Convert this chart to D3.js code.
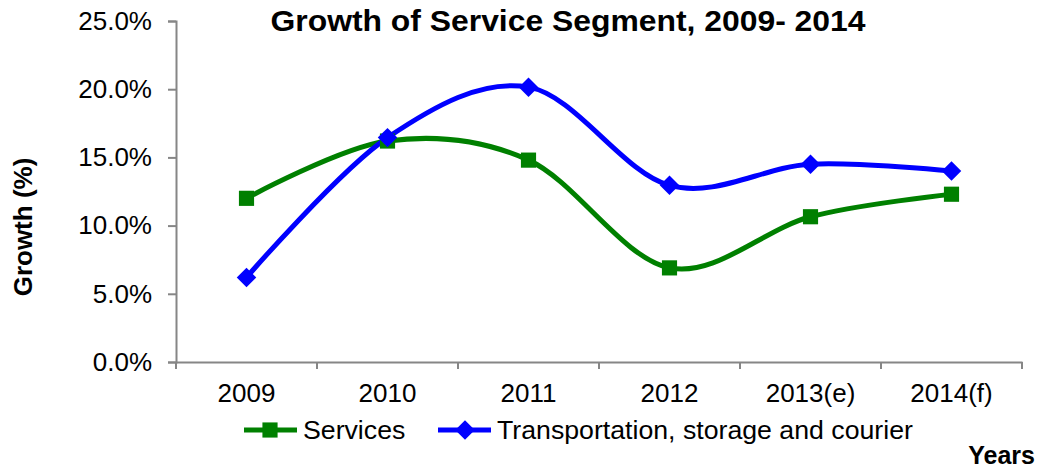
<!DOCTYPE html>
<html><head><meta charset="utf-8">
<script src="https://cdn.jsdelivr.net/npm/d3@7"></script>
<style>body{margin:0;background:#fff;} svg{display:block;font-family:"Liberation Sans",Arial,sans-serif;}</style>
</head><body>
<svg id="c" width="1037" height="470"></svg>
<script>
const categories = ["2009","2010","2011","2012","2013(e)","2014(f)"];
const services = [12.0, 16.2, 14.8, 6.9, 10.65, 12.3];
const transport = [6.2, 16.45, 20.15, 12.95, 14.5, 14.0];
const yTicks = [0,5,10,15,20,25];
const seriesNames = ["Services","Transportation, storage and courier"];

const svg = d3.select("#c");
const L=176, R=1022, T=21, B=362;
const x = d3.scaleBand().domain(categories).range([L,R]);
const y = d3.scaleLinear().domain([0,25]).range([B,T]);
const axisColor = "#868686";

// y axis
const ya = svg.append("g").attr("transform",`translate(${L},0)`)
  .call(d3.axisLeft(y).tickValues(yTicks).tickSize(8).tickPadding(16).tickFormat(d=>d.toFixed(1)+"%"));
ya.select(".domain").attr("stroke",axisColor).attr("stroke-width",2);
ya.selectAll(".tick line").attr("stroke",axisColor).attr("stroke-width",2);
ya.selectAll(".tick text").attr("font-size",26).attr("fill","#000").attr("font-family","Liberation Sans, Arial, sans-serif");

// x axis
const xa = svg.append("g").attr("transform",`translate(0,${B})`)
  .call(d3.axisBottom(x).tickSize(0).tickPadding(22));
xa.select(".domain").attr("stroke",axisColor).attr("stroke-width",2);
xa.selectAll(".tick text").attr("font-size",26).attr("fill","#000").attr("font-family","Liberation Sans, Arial, sans-serif");
// boundary ticks
const bounds = categories.map(c=>x(c)).concat([R]);
svg.append("g").selectAll("line").data(bounds).join("line")
  .attr("x1",d=>d).attr("x2",d=>d).attr("y1",B).attr("y2",B+7)
  .attr("stroke",axisColor).attr("stroke-width",2);

const cx = c => x(c)+x.bandwidth()/2;
const line = d3.line().x((d,i)=>cx(categories[i])).y(d=>y(d)).curve(d3.curveCardinal.tension(0));

svg.append("path").attr("d",line(services)).attr("fill","none").attr("stroke","#008000").attr("stroke-width",5);
svg.append("path").attr("d",line(transport)).attr("fill","none").attr("stroke","#0000FF").attr("stroke-width",5);

const sq = d3.symbol().type(d3.symbolSquare).size(230);
const dm = d3.symbol().type(d3.symbolSquare).size(190);
svg.append("g").selectAll("path").data(services).join("path")
  .attr("d",sq).attr("transform",(d,i)=>`translate(${cx(categories[i])},${y(d)})`).attr("fill","#008000");
svg.append("g").selectAll("path").data(transport).join("path")
  .attr("d",dm).attr("transform",(d,i)=>`translate(${cx(categories[i])},${y(d)}) rotate(45)`).attr("fill","#0000FF");

// title
svg.append("text").attr("x",568).attr("y",31).attr("text-anchor","middle")
  .attr("font-size",30).attr("font-weight","bold").attr("textLength",595).attr("lengthAdjust","spacingAndGlyphs")
  .text("Growth of Service Segment, 2009- 2014");

// y label
svg.append("text").attr("transform","translate(32,227) rotate(-90)").attr("text-anchor","middle")
  .attr("font-size",26).attr("font-weight","bold").text("Growth (%)");

// x label
svg.append("text").attr("x",1035).attr("y",464).attr("text-anchor","end").attr("font-size",25).attr("font-weight","bold").text("Years");

// legend
const lg = [{x0:244, mx:270, tx:303, col:"#008000", sym:"sq", name:seriesNames[0]},
            {x0:438, mx:465, tx:497, col:"#0000FF", sym:"dm", name:seriesNames[1]}];
const ly = 430;
lg.forEach(o=>{
  svg.append("line").attr("x1",o.x0).attr("x2",o.x0+53).attr("y1",ly).attr("y2",ly).attr("stroke",o.col).attr("stroke-width",5);
  svg.append("path").attr("d",o.sym==="sq"?sq:dm)
    .attr("transform",`translate(${o.mx},${ly})`+(o.sym==="dm"?" rotate(45)":"")).attr("fill",o.col);
  svg.append("text").attr("x",o.tx).attr("y",ly+9).attr("font-size",26.7).text(o.name);
});
</script>
</body></html>
